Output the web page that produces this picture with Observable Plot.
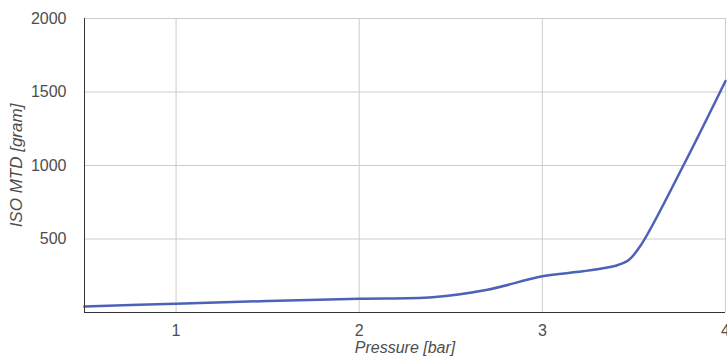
<!DOCTYPE html>
<html>
<head>
<meta charset="utf-8">
<script src="https://cdn.jsdelivr.net/npm/d3@7"></script>
<script src="https://cdn.jsdelivr.net/npm/@observablehq/plot@0.6"></script>
<style>
  html, body { margin: 0; padding: 0; background: #fff; }
  #chart { width: 727px; height: 360px; overflow: hidden; }
</style>
</head>
<body>
<div id="chart"></div>
<script>
const pressure = [0.5, 1, 1.5, 2, 2.4, 2.7, 3, 3.22, 3.4, 3.47, 3.54, 3.77, 4];
const mtd      = [40, 60, 78, 94, 104, 155, 246, 280, 318, 355, 462, 1000, 1575];
const xTicks = [1, 2, 3, 4];
const yTicks = [500, 1000, 1500, 2000];
const xLabel = "Pressure [bar]";
const yLabel = "ISO MTD [gram]";

const data = pressure.map((p, i) => ({p, v: mtd[i]}));

const chart = Plot.plot({
  width: 727,
  height: 360,
  marginLeft: 84,
  marginRight: 2,
  marginTop: 18,
  marginBottom: 48,
  x: {domain: [0.5, 4]},
  y: {domain: [0, 2000]},
  style: {fontFamily: "'Liberation Sans', Arial, sans-serif", fontSize: "16px", color: "#444", background: "#fff"},
  marks: [
    Plot.gridX(xTicks, {stroke: "#cccccc", strokeOpacity: 1}),
    Plot.gridY(yTicks, {stroke: "#cccccc", strokeOpacity: 1}),
    Plot.axisX(xTicks, {tickSize: 0, tickPadding: 12, label: null, fill: "#4d4d4d", tickFormat: d => String(d)}),
    Plot.axisY(yTicks, {tickSize: 0, tickPadding: 18, label: null, fill: "#4d4d4d", tickFormat: d => String(d)}),
    Plot.line(data, {x: "p", y: "v", curve: "catmull-rom", stroke: "#4c62b8", strokeWidth: 2.5}),
    Plot.ruleX([0.5], {stroke: "#333"}),
    Plot.ruleY([0], {stroke: "#333"}),
    Plot.text([xLabel], {frameAnchor: "bottom", dy: 40, textAnchor: "middle", fontStyle: "italic", fill: "#4d4d4d", fontSize: 16}),
    Plot.text([yLabel], {frameAnchor: "left", dx: -68, rotate: -90, textAnchor: "middle", fontStyle: "italic", fill: "#4d4d4d", fontSize: 17})
  ]
});
document.getElementById("chart").appendChild(chart);
</script>
</body>
</html>
